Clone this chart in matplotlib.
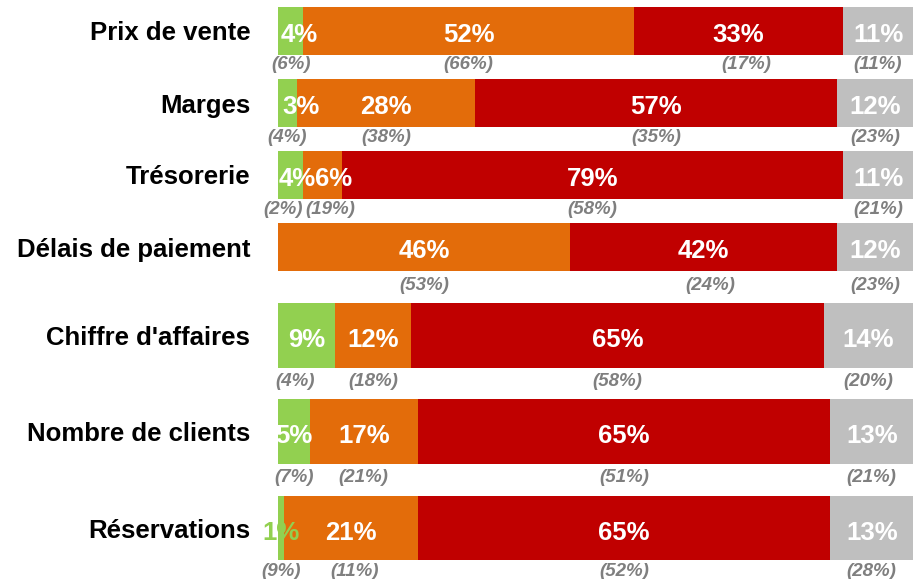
import matplotlib.pyplot as plt

plt.rcParams['font.family'] = ['Liberation Sans', 'DejaVu Sans']

# categories, top to bottom
categories = ["Prix de vente", "Marges", "Trésorerie", "Délais de paiement",
              "Chiffre d'affaires", "Nombre de clients", "Réservations"]

# current shares (%) per segment
green = [4, 3, 4, 0, 9, 5, 1]
orange = [52, 28, 6, 46, 12, 17, 21]
red = [33, 57, 79, 42, 65, 65, 65]
grey = [11, 12, 11, 12, 14, 13, 13]

# previous shares shown in brackets under each segment (None = no label)
prev_green = [6, 4, 2, None, 4, 7, 9]
prev_orange = [66, 38, 19, 53, 18, 21, 11]
prev_red = [17, 35, 58, 24, 58, 51, 52]
prev_grey = [11, 23, 21, 23, 20, 21, 28]

series = [green, orange, red, grey]
prev_series = [prev_green, prev_orange, prev_red, prev_grey]
colors = ['#92D050', '#E36C0A', '#C00000', '#BFBFBF']

# layout (pixels): row centres, bar thickness, gap to bracket labels
row_y = [30.5, 103, 175, 247, 335.5, 431.5, 528]
row_h = [48, 48, 48, 48, 65, 65, 64]
sub_gap = [10, 10, 10, 15, 13, 13, 12]

# small nudges for crowded labels (pixels)
val_shift = {(0, 0): 8, (1, 0): 13, (2, 0): 6, (2, 1): 11}
sub_shift = {(0, 2): 8, (2, 0): -8, (2, 1): 8, (3, 2): 7, (4, 0): -11, (6, 1): 4}

W, H = 913, 579
fig = plt.figure(figsize=(W / 100, H / 100), dpi=100)
ax = fig.add_axes([278 / W, 0, (W - 278) / W, 1])
ax.set_xlim(0, 100)
ax.set_ylim(H, 0)

left = [0] * len(categories)
for s, (vals, prev, col) in enumerate(zip(series, prev_series, colors)):
    ax.barh(row_y, vals, height=row_h, left=left, color=col, linewidth=0, zorder=2)
    for i, v in enumerate(vals):
        cx = left[i] + v / 2
        if v > 0:
            tcol = col if v < 2 else 'white'
            ax.annotate(f"{v}%", (cx, row_y[i]), xytext=(val_shift.get((i, s), 0), -2),
                        textcoords='offset pixels', ha='center', va='center_baseline',
                        color=tcol, fontsize=18.5, fontweight='bold', zorder=5)
        if prev[i] is not None:
            yb = row_y[i] + row_h[i] / 2 + sub_gap[i]
            ax.annotate(f"({prev[i]}%)", (cx, yb), xytext=(sub_shift.get((i, s), 0), 0),
                        textcoords='offset pixels', ha='center', va='center',
                        color='#7F7F7F', fontsize=13.5, fontweight='bold',
                        fontstyle='italic', annotation_clip=False, zorder=5)
    left = [l + v for l, v in zip(left, vals)]

ax.set_yticks(row_y)
ax.set_yticklabels(categories, fontsize=18.5, fontweight='bold')
ax.tick_params(axis='y', length=0, pad=20)
ax.set_xticks([])
for sp in ax.spines.values():
    sp.set_visible(False)

fig.savefig('out.png', dpi=100)
